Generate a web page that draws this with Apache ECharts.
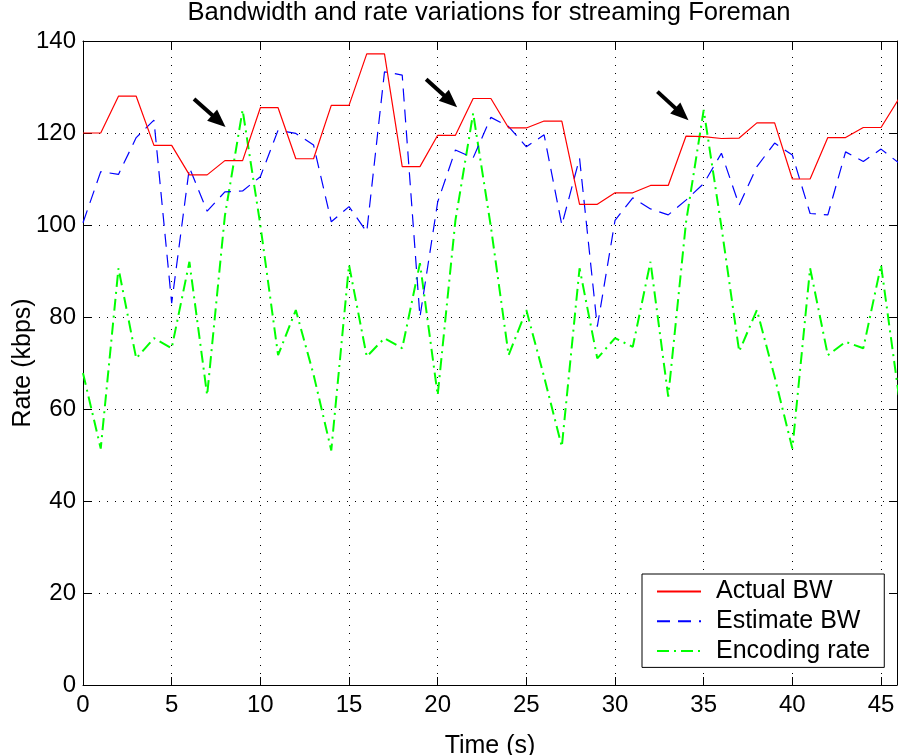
<!DOCTYPE html>
<html>
<head>
<meta charset="utf-8">
<script src="https://cdn.jsdelivr.net/npm/echarts@6/dist/echarts.min.js"></script>
<style>
  html, body { margin: 0; padding: 0; background: #fff; }
  #chart { width: 898px; height: 755px; }
</style>
</head>
<body>
<div id="chart"></div>
<script>
// Time samples (s)
const timeSec = [0,1,2,3,4,5,6,7,8,9,10,11,12,13,14,15,16,17,18,19,20,21,22,23,24,25,26,27,28,29,30,31,32,33,34,35,36,37,38,39,40,41,42,43,44,45,46];

// Actual bandwidth (kbps)
const actualBW = [120,120,128,128,117.3,117.3,110.9,110.9,114,114,125.5,125.5,114.4,114.4,126,126,137.2,137.2,112.7,112.7,119.5,119.5,127.5,127.5,121.1,121.1,122.6,122.6,104.5,104.5,107,107,108.6,108.6,119.3,119.2,118.8,118.9,122.2,122.2,110,110,119,119,121.2,121.2,127.4];

// Estimated bandwidth (kbps)
const estimateBW = [100.5,111.6,111,119,122.8,83,112.5,103,107.2,107.4,110.5,120.6,119.9,117.4,100.7,104,98.5,133.3,132.6,80,105,116.3,114.6,123.4,121.4,117,119.6,100,114.5,77.9,101,105.9,103.5,102.2,105.4,109,115.6,104.3,112.7,117.8,115.2,102.5,102.2,115.9,113.8,116.5,113.5];

// Encoding rate (kbps)
const encodingRate = [67.8,51.4,90.6,71,75.4,73.2,92,63,102,125,100,71.7,81.5,67.5,51,91.3,71.4,75.4,73.2,91.7,63,101,124.3,99.6,71.7,81.5,67,51.8,90.6,71,75.4,73.5,92,62.7,100.5,125,99.6,72.5,81.5,67,51.4,90.6,71.7,74.6,73.2,91.3,63];

// Annotation arrows: [tailX, tailY, headX, headY] in data units
const arrows = [
  [6.26, 127.4, 7.66, 122.6],
  [19.35, 131.7, 20.72, 126.9],
  [32.39, 129.0, 33.77, 124.1]
];

const xTicks = [0,5,10,15,20,25,30,35,40,45];
const yTicks = [0,20,40,60,80,100,120,140];

const titleText = 'Bandwidth and rate variations for streaming Foreman';
const xName = 'Time (s)';
const yName = 'Rate (kbps)';
const seriesNames = ['Actual BW', 'Estimate BW', 'Encoding rate'];

const FONT = "'Liberation Sans', Arial, Helvetica, sans-serif";
const X_MAX = 45.9;

function pairs(ys) { return timeSec.map((t, i) => [t, ys[i]]); }

const chart = echarts.init(document.getElementById('chart'), null, { renderer: 'canvas' });

const dotted = { color: '#000', width: 1, type: [1, 7] };

const option = {
  animation: false,
  backgroundColor: '#fff',
  textStyle: { fontFamily: FONT },
  title: {
    text: titleText,
    left: 489,
    textAlign: 'center',
    top: 0,
    padding: 0,
    textStyle: { fontFamily: FONT, fontSize: 25.6, fontWeight: 'normal', color: '#000' }
  },
  grid: {
    left: 83, right: 1, top: 41, bottom: 70,
    containLabel: false,
    outerBoundsMode: 'none',
    show: false
  },
  legend: {
    orient: 'vertical',
    left: 642, top: 574,
    padding: [5, 14, 4, 14],
    itemGap: 4.7,
    itemWidth: 44, itemHeight: 14,
    borderColor: '#000', borderWidth: 1,
    backgroundColor: '#fff',
    selectedMode: false,
    data: seriesNames,
    itemStyle: { opacity: 0 },
    textStyle: { fontFamily: FONT, fontSize: 25, color: '#000', lineHeight: 25, padding: [0, 0, 0, 10] }
  },
  xAxis: [
    {
      type: 'value', min: 0, max: X_MAX, interval: 5,
      position: 'bottom',
      name: xName, nameLocation: 'middle', nameGap: 49, nameMoveOverlap: false,
      nameTextStyle: { fontFamily: FONT, fontSize: 25, color: '#000' },
      axisLine: { show: true, onZero: false, lineStyle: { color: '#000', width: 1 } },
      axisTick: { show: true, inside: true, length: 8, lineStyle: { color: '#000' } },
      axisLabel: {
        show: true, margin: 8, color: '#000', fontSize: 24, fontFamily: FONT,
        showMaxLabel: false,
        formatter: v => (xTicks.indexOf(v) >= 0 ? String(v) : '')
      },
      splitLine: { show: true, lineStyle: dotted }
    },
    {
      type: 'value', min: 0, max: X_MAX, interval: 5,
      position: 'top',
      axisLine: { show: true, onZero: false, lineStyle: { color: '#000', width: 1 } },
      axisTick: { show: true, inside: true, length: 8, lineStyle: { color: '#000' } },
      axisLabel: { show: false },
      splitLine: { show: false }
    }
  ],
  yAxis: [
    {
      type: 'value', min: 0, max: 140, interval: 20,
      position: 'left',
      name: yName, nameLocation: 'middle', nameGap: 47, nameRotate: 90, nameMoveOverlap: false,
      nameTextStyle: { fontFamily: FONT, fontSize: 25, color: '#000' },
      axisLine: { show: true, onZero: false, lineStyle: { color: '#000', width: 1 } },
      axisTick: { show: true, inside: true, length: 8, lineStyle: { color: '#000' } },
      axisLabel: {
        show: true, margin: 7, color: '#000', fontSize: 24, fontFamily: FONT,
        formatter: v => (yTicks.indexOf(v) >= 0 ? String(v) : '')
      },
      splitLine: { show: true, lineStyle: dotted }
    },
    {
      type: 'value', min: 0, max: 140, interval: 20,
      position: 'right',
      axisLine: { show: true, onZero: false, lineStyle: { color: '#000', width: 1 } },
      axisTick: { show: true, inside: true, length: 8, lineStyle: { color: '#000' } },
      axisLabel: { show: false },
      splitLine: { show: false }
    }
  ],
  series: [
    {
      name: seriesNames[0], type: 'line', xAxisIndex: 0, yAxisIndex: 0,
      data: pairs(actualBW), symbol: 'none', clip: true,
      color: '#ff0000',
      lineStyle: { color: '#ff0000', width: 1.2, type: 'solid' },
      z: 3,
      markLine: {
        silent: true,
        animation: false,
        symbol: ['none', 'triangle'],
        symbolSize: [15, 18],
        label: { show: false },
        emphasis: { disabled: true },
        lineStyle: { color: '#000', width: 4, type: 'solid' },
        itemStyle: { color: '#000' },
        data: arrows.map(a => [{ coord: [a[0], a[1]] }, { coord: [a[2], a[3]] }])
      }
    },
    {
      name: seriesNames[1], type: 'line', xAxisIndex: 0, yAxisIndex: 0,
      data: pairs(estimateBW), symbol: 'none', clip: true,
      color: '#0000ff',
      lineStyle: { color: '#0000ff', width: 1.2, type: [13, 8] },
      z: 2
    },
    {
      name: seriesNames[2], type: 'line', xAxisIndex: 0, yAxisIndex: 0,
      data: pairs(encodingRate), symbol: 'none', clip: true,
      color: '#00ff00',
      lineStyle: { color: '#00ff00', width: 2, type: [12, 5, 2, 5] },
      z: 1
    }
  ]
};

chart.setOption(option);
</script>
</body>
</html>
